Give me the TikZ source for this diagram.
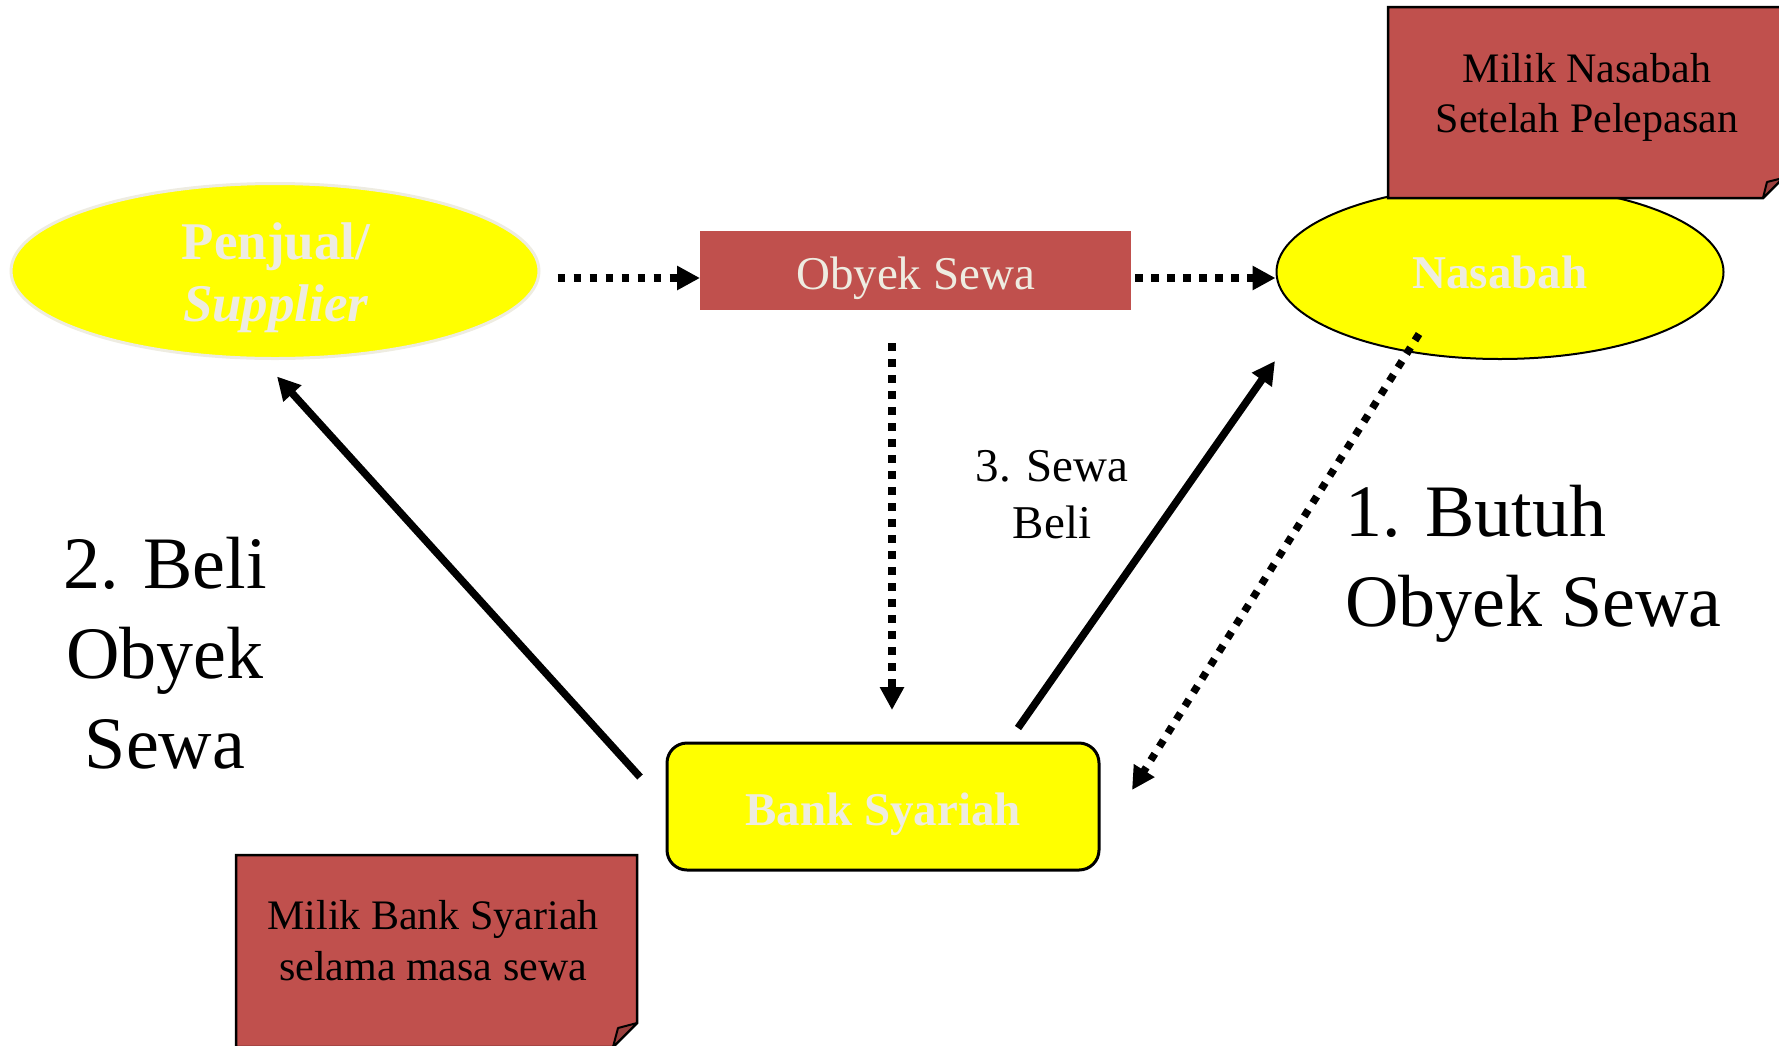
\documentclass[tikz,border=0pt]{standalone}
\usepackage{fontspec}
\setmainfont{Liberation Serif}
\usetikzlibrary{arrows.meta,calc,shapes.geometric}

\definecolor{noteRed}{HTML}{C0504D}
\definecolor{foldRed}{HTML}{9A403E}
\definecolor{paleText}{HTML}{EEECE1}
\definecolor{brightYellow}{HTML}{FFFF00}

\tikzset{
  flow/.style={line width=7.5pt, line cap=butt, -{Triangle[length=23pt,width=23pt]}},
  dotflow/.style={flow, line width=7.5pt, dash pattern=on 7.5pt off 8.5pt},
  midfont/.style={font=\fontsize{47}{57}\selectfont},
  bigfont/.style={font=\fontsize{74}{90}\selectfont},
  paletext/.style={text=paleText, font=\bfseries\fontsize{47}{56}\selectfont},
  partyellipse/.style={ellipse, fill=brightYellow, inner sep=0pt},
  frame/.style={inner sep=0pt, outer sep=0pt},
  notebody/.style={fill=noteRed, draw=black, line width=2.5pt, line join=miter},
  notefold/.style={fill=foldRed, draw=black, line width=2pt, line join=round},
  notetext/.style={align=center, inner sep=0pt, text=black},
}

\begin{document}
\begin{tikzpicture}[x=1pt, y=-1pt]
\useasboundingbox (0,0) rectangle (1779,1045);

% seller / supplier
\node (penjual) [partyellipse, draw=paleText, line width=3pt,
  minimum width=528pt, minimum height=175pt] at (275,271) {};
\node (penjualText) [paletext, align=center, inner sep=0pt,
  font=\bfseries\fontsize{53}{62}\selectfont] at (276,277.5)
  {Penjual/\\\textit{Supplier}};

% leased object
\node (obyek) [frame, fill=noteRed, minimum width=431pt, minimum height=79pt,
  text=paleText, midfont, text height=40pt, text depth=3pt] at (915.5,270.5) {Obyek Sewa};

% customer
\node (nasabah) [partyellipse, draw=black, line width=2pt,
  minimum width=447pt, minimum height=174pt, paletext] at (1500,272) {Nasabah};

% note: ownership after release
\node (noteTop) [frame, minimum width=395pt, minimum height=191pt] at (1585.5,102.5) {};
\draw[notebody] (noteTop.north west) -- (noteTop.north east)
  -- ($(noteTop.south east)+(0,-20)$) -- ($(noteTop.south east)+(-20,0)$)
  -- (noteTop.south west) -- cycle;
\draw[notefold] ($(noteTop.south east)+(-20,0)$) -- ($(noteTop.south east)+(-16,-16)$)
  -- ($(noteTop.south east)+(0,-20)$) -- cycle;
\node (noteTopText) [notetext, font=\fontsize{42}{50}\selectfont] at (1587,97)
  {Milik Nasabah\\Setelah Pelepasan};

% bank
\node (bank) [frame, rounded corners=20pt, fill=brightYellow, draw=black, line width=3pt,
  minimum width=432pt, minimum height=127pt, paletext,
  text height=40pt, text depth=3pt] at (883,806.5) {Bank Syariah};

% note: ownership during lease
\node (noteBot) [frame, minimum width=401pt, minimum height=192pt] at (436.5,951) {};
\draw[notebody] (noteBot.north west) -- (noteBot.north east)
  -- ($(noteBot.south east)+(0,-24)$) -- ($(noteBot.south east)+(-24,0)$)
  -- (noteBot.south west) -- cycle;
\draw[notefold] ($(noteBot.south east)+(-24,0)$) -- ($(noteBot.south east)+(-19,-19)$)
  -- ($(noteBot.south east)+(0,-24)$) -- cycle;
\node (noteBotText) [notetext, font=\fontsize{42}{51}\selectfont] at (433,941)
  {Milik Bank Syariah\\selama masa sewa};

% flows of goods (dotted)
\coordinate (a1) at ($(penjual.east)+(17,7)$);
\draw[dotflow] (a1) -- (a1 -| obyek.west);
\coordinate (a2) at ($(obyek.east)+(4,7.5)$);
\draw[dotflow] (a2) -- (a2 -| nasabah.west);
\draw[dotflow] ($(obyek.south)+(-23.5,33)$) -- ($(bank.north)+(9,-33)$);
\draw[dotflow] ($(nasabah.south)+(-81,-26)$) -- ($(bank.east)+(33,-16.5)$);

% purchase and lease (solid)
\draw[flow] ($(bank.west)+(-27,-29.5)$) -- ($(penjual.south)+(2,16.5)$);
\draw[flow] ($(bank.north)+(135,-15)$) -- ($(nasabah.south)+(-225,1)$);

% step labels
\node (step3) [midfont, align=center, inner sep=0pt] at (1052,495) {3. Sewa\\Beli};
\node (step2) [bigfont, align=center, inner sep=0pt] at (165,653) {2. Beli\\Obyek\\Sewa};
\node (step1) [bigfont, align=left, inner sep=0pt, anchor=west] at (1345,564)
  {1. Butuh\\Obyek Sewa};
\end{tikzpicture}
\end{document}
